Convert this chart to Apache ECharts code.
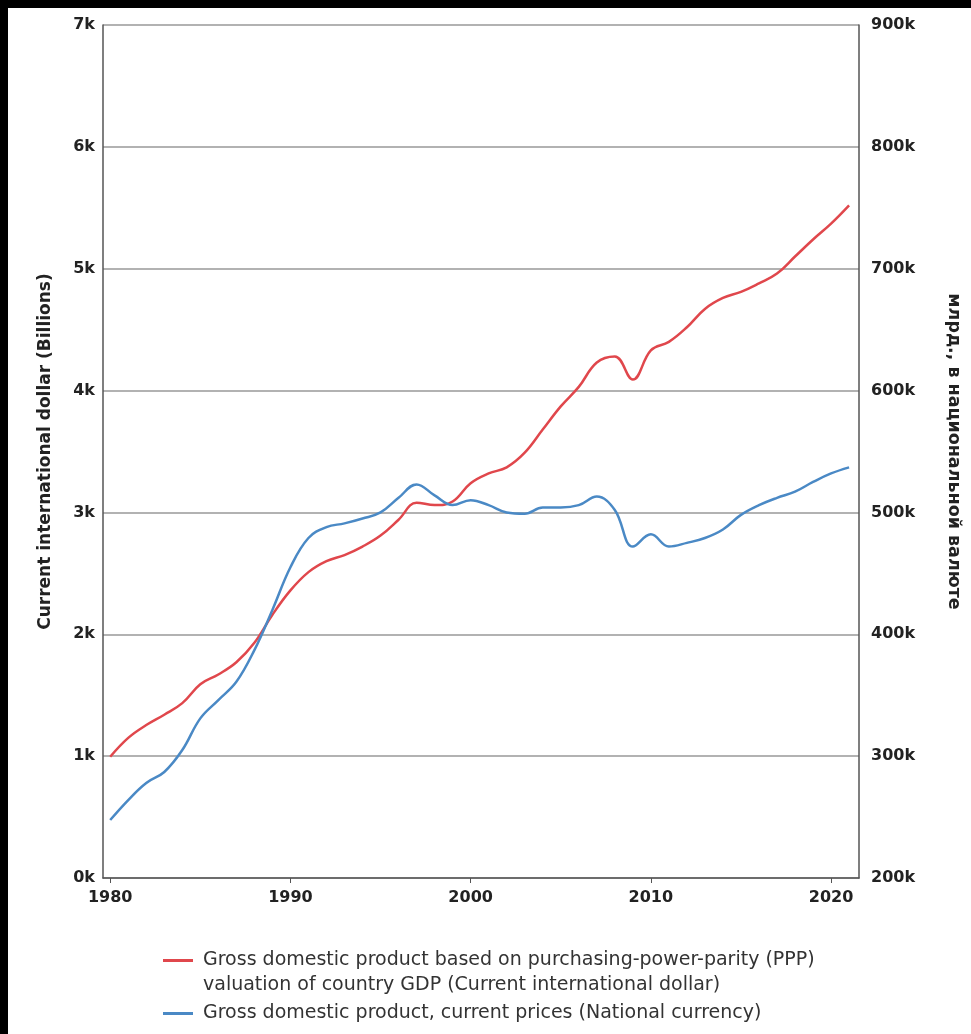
<!DOCTYPE html>
<html>
<head>
<meta charset="utf-8">
<script src="https://cdn.jsdelivr.net/npm/echarts@6/dist/echarts.min.js"></script>
<style>
html,body{margin:0;padding:0;background:#000;width:971px;height:1034px;overflow:hidden;}
#c{position:absolute;left:8px;top:8px;width:963px;height:1026px;background:#fff;}
</style>
</head>
<body>
<div id="c"></div>
<script>
var years = [1980,1981,1982,1983,1984,1985,1986,1987,1988,1989,1990,1991,1992,1993,1994,1995,1996,1997,1998,1999,2000,2001,2002,2003,2004,2005,2006,2007,2008,2009,2010,2011,2012,2013,2014,2015,2016,2017,2018,2019,2020,2021];
// PPP GDP, billions of current international dollars
var pppValues = [995,1150,1255,1340,1435,1590,1670,1770,1930,2160,2360,2510,2600,2650,2720,2810,2940,3080,3060,3090,3240,3320,3370,3490,3680,3870,4030,4230,4280,4090,4330,4400,4520,4670,4760,4810,4880,4960,5100,5240,5370,5520];
// GDP current prices, billions of national currency
var ncValues = [247600,264000,278000,287000,305000,331000,346000,361000,387000,420000,455000,479000,488000,491000,495000,500000,512000,523000,514000,506000,510000,506000,500000,499000,504000,504000,506000,513000,502000,472000,482000,472000,475000,479000,486000,498000,506000,512000,517000,525000,532000,537000];
var xTicks = [1980,1990,2000,2010,2020];
var seriesNames = ['Gross domestic product based on purchasing-power-parity (PPP)\nvaluation of country GDP (Current international dollar)','Gross domestic product, current prices (National currency)'];
var leftName = 'Current international dollar (Billions)';
var rightName = 'млрд., в национальной валюте';

function pairs(xs, ys){ return xs.map(function(x,i){ return [x, ys[i]]; }); }

var font = '"DejaVu Sans", sans-serif';
var legendText = {
  fontSize:19, color:'#333', fontFamily:font, lineHeight:25,
  rich:{t:{fontSize:19, color:'#333', fontFamily:font, lineHeight:25, padding:[0,0,0,5]}}
};
function legendFmt(name){
  var lines = name.split('\n').map(function(s){ return '{t|' + s + '}'; });
  // an empty first line keeps the icon level with the first text line
  if (lines.length > 1) lines.unshift('');
  return lines.join('\n');
}
var chart = echarts.init(document.getElementById('c'));
chart.setOption({
  animation:false,
  backgroundColor:'#fff',
  textStyle:{fontFamily:font},
  grid:{left:95, top:17, right:110, bottom:156, containLabel:false},
  legend:[{
    orient:'vertical', left:155, top:915, padding:0, itemWidth:30, itemHeight:3,
    icon:'rect', formatter:legendFmt, textStyle:legendText,
    data:[seriesNames[0]]
  },{
    orient:'vertical', left:155, top:993, padding:0, itemWidth:30, itemHeight:3,
    icon:'rect', formatter:legendFmt, textStyle:legendText,
    data:[seriesNames[1]]
  }],
  xAxis:{
    type:'value', min:1979.6, max:2021.55,
    axisLine:{show:true, lineStyle:{color:'#555', width:1.5}},
    axisTick:{show:true, customValues:xTicks, length:5, lineStyle:{color:'#555'}},
    axisLabel:{customValues:xTicks, color:'#222', fontWeight:'bold', fontSize:16, margin:12, formatter:function(v){return String(v);}},
    splitLine:{show:false}
  },
  yAxis:[{
    type:'value', min:0, max:7000, interval:1000, position:'left',
    name:leftName, nameLocation:'middle', nameGap:49, nameRotate:90,
    nameTextStyle:{fontSize:17, fontWeight:'bold', color:'#222', fontFamily:font},
    axisLine:{show:true, lineStyle:{color:'#555', width:1.5}},
    axisTick:{show:false},
    axisLabel:{color:'#222', fontWeight:'bold', fontSize:16, margin:8, formatter:function(v){return (v/1000)+'k';}},
    splitLine:{show:true, lineStyle:{color:'#999', width:1.5}}
  },{
    type:'value', min:200000, max:900000, interval:100000, position:'right',
    name:rightName, nameLocation:'middle', nameGap:86, nameRotate:-90,
    nameTextStyle:{fontSize:17.5, fontWeight:'bold', color:'#222', fontFamily:font},
    axisLine:{show:true, lineStyle:{color:'#555', width:1.5}},
    axisTick:{show:false},
    axisLabel:{color:'#222', fontWeight:'bold', fontSize:16, margin:12, formatter:function(v){return (v/1000)+'k';}},
    splitLine:{show:false}
  }],
  series:[{
    name:seriesNames[0], type:'line', yAxisIndex:0, smooth:0.4, showSymbol:false,
    data:pairs(years, pppValues),
    lineStyle:{color:'#e0474c', width:2.5}, itemStyle:{color:'#e0474c'}
  },{
    name:seriesNames[1], type:'line', yAxisIndex:1, smooth:0.4, showSymbol:false,
    data:pairs(years, ncValues),
    lineStyle:{color:'#4a89c5', width:2.5}, itemStyle:{color:'#4a89c5'}
  }]
});
</script>
</body>
</html>
